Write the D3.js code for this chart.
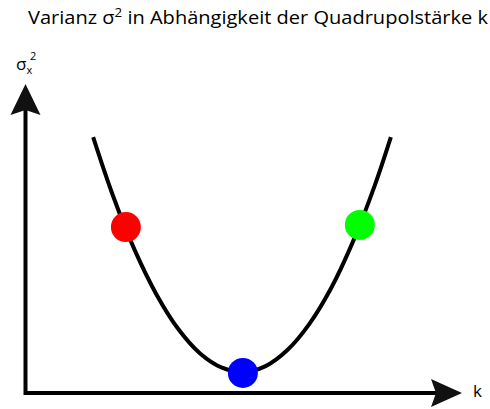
<!DOCTYPE html>
<html>
<head>
<meta charset="utf-8">
<script src="https://cdn.jsdelivr.net/npm/d3@7"></script>
<style>
  html, body { margin: 0; padding: 0; background: #fff; }
  text { font-family: "Open Sans", sans-serif; fill: #000; }
</style>
</head>
<body>
<div id="chart"></div>
<script>
// curve (arbitrary units)
const kValues = [1.55, 2.0, 2.5, 3.0, 3.5, 4.0, 4.5, 5.0, 5.5, 6.0, 6.5, 7.0, 7.5, 8.0, 8.37];
const sigmaValues = [8.28, 6.40, 4.63, 3.19, 2.07, 1.28, 0.82, 0.68, 0.87, 1.39, 2.23, 3.39, 4.89, 6.71, 8.28];

// marked points
const pointK = [2.30, 4.98, 7.66];
const pointSigma = [5.37, 0.65, 5.44];
const pointColors = ["#ff0000", "#0000ff", "#00ff00"];

const width = 490, height = 409;

const svg = d3.select("#chart")
    .append("svg")
    .attr("width", width)
    .attr("height", height);

const x = d3.scaleLinear().domain([0, 10]).range([25.5, 462]);
const y = d3.scaleLinear().domain([0, 10]).range([393, 84]);

// title
const title = svg.append("text")
    .attr("x", 28)
    .attr("y", 24)
    .attr("font-size", 18)
    .attr("textLength", 460)
    .attr("lengthAdjust", "spacingAndGlyphs");
title.append("tspan").text("Varianz σ");
title.append("tspan").attr("font-size", 12).attr("dy", -7).text("2");
title.append("tspan").attr("dy", 7).text(" in Abhängigkeit der Quadrupolstärke k");

// axes with arrow heads
const arrowLen = 31, arrowHalf = 15, notch = 5;

svg.append("path")
    .attr("d", `M${x(0)},${y(10) + arrowLen - notch}V${y(0)}H${x(10) - arrowLen + notch}`)
    .attr("fill", "none")
    .attr("stroke", "#000")
    .attr("stroke-width", 4)
    .attr("stroke-linejoin", "miter");

// y arrow
const yt = [x(0), y(10)];
svg.append("path")
    .attr("d", `M${yt[0]},${yt[1]}L${yt[0] + arrowHalf},${yt[1] + arrowLen}L${yt[0]},${yt[1] + arrowLen - notch}L${yt[0] - arrowHalf},${yt[1] + arrowLen}Z`)
    .attr("fill", "#111");

// x arrow
const xt = [x(10), y(0)];
svg.append("path")
    .attr("d", `M${xt[0]},${xt[1]}L${xt[0] - arrowLen},${xt[1] - arrowHalf + 1}L${xt[0] - arrowLen + notch},${xt[1]}L${xt[0] - arrowLen},${xt[1] + arrowHalf - 1}Z`)
    .attr("fill", "#111");

// axis labels
svg.append("text")
    .attr("x", 473)
    .attr("y", 397)
    .attr("font-size", 17)
    .text("k");

const ylab = svg.append("text")
    .attr("x", 16)
    .attr("y", 70)
    .attr("font-size", 17);
ylab.append("tspan").text("σ");
ylab.append("tspan").attr("font-size", 11).attr("dy", 4).text("x");
ylab.append("tspan").attr("font-size", 11).attr("x", 30).attr("dy", -14).text("2");

// curve
const line = d3.line()
    .x((d, i) => x(kValues[i]))
    .y((d, i) => y(sigmaValues[i]))
    .curve(d3.curveCatmullRom);

svg.append("path")
    .datum(kValues)
    .attr("d", line)
    .attr("fill", "none")
    .attr("stroke", "#000")
    .attr("stroke-width", 4);

// points
svg.selectAll("circle")
    .data(pointK)
    .enter()
    .append("circle")
    .attr("cx", d => x(d))
    .attr("cy", (d, i) => y(pointSigma[i]))
    .attr("r", 15)
    .attr("fill", (d, i) => pointColors[i]);
</script>
</body>
</html>
